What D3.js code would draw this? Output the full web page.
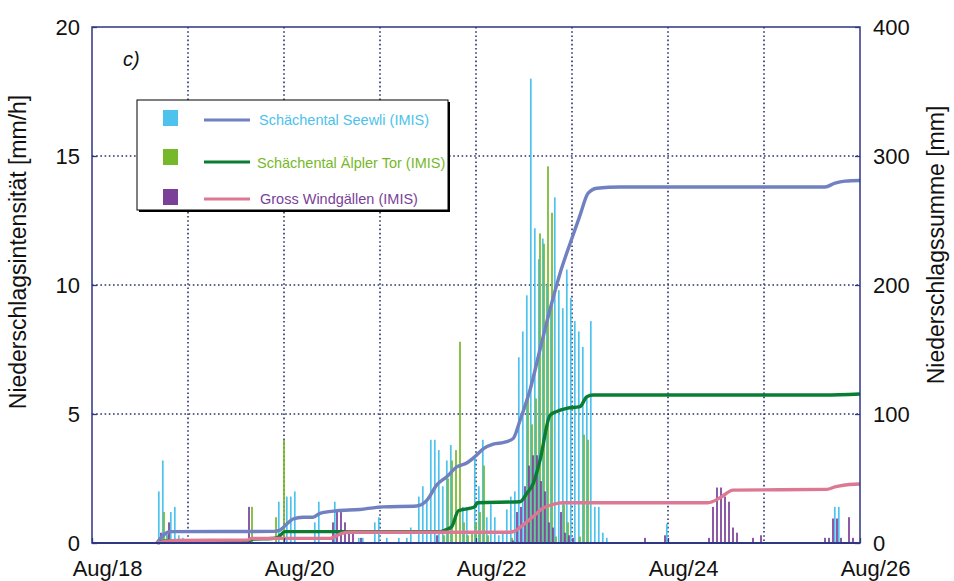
<!DOCTYPE html>
<html>
<head>
<meta charset="utf-8">
<script src="https://cdn.jsdelivr.net/npm/d3@7"></script>
<style>
  body { margin: 0; background: #fff; }
  svg { display: block; }
  text { font-family: "Liberation Sans", Arial, sans-serif; }
</style>
</head>
<body>
<svg id="chart" width="954" height="581"></svg>
<script>
// Hourly precipitation (mm/h) per station, as [hour since Aug 18 00:00, value]
const seewliRain = [
  [16, 2.0], [17, 3.2], [18, 0.4], [19, 1.2], [20, 1.4], [21, 0.3], [22, 0.2],
  [46, 1.6], [48, 1.8], [49, 1.8], [50, 2.0], [55, 0.8], [56, 1.6], [60, 1.6],
  [66, 0.2], [67, 0.2], [70, 0.8], [71, 1.0], [73, 0.2], [76, 0.2], [78, 0.2], [79, 0.6],
  [81, 1.8], [82, 2.2], [83, 1.6], [84, 4.0], [85, 4.0], [86, 3.6], [87, 2.2], [88, 3.2],
  [89, 3.8], [92, 1.4], [93, 1.4], [95, 3.3], [96, 2.2], [97, 4.0], [98, 1.0], [99, 1.5],
  [100, 1.0], [101, 0.3], [102, 0.4], [103, 1.3], [104, 1.8], [105, 2.0], [106, 7.2],
  [107, 8.2], [108, 9.6], [109, 18.0], [110, 12.2], [111, 11.0], [112, 11.8], [113, 10.0],
  [114, 9.0], [115, 13.4], [116, 9.8], [117, 9.1], [118, 10.6], [119, 9.5], [120, 8.6],
  [121, 8.2], [122, 7.6], [123, 5.7], [124, 8.6], [125, 1.4], [126, 1.4], [127, 0.4],
  [128, 0.2], [143, 0.75], [185, 1.4], [186, 1.4]
];
const alplerRain = [
  [17, 1.2], [18, 0.3], [39, 1.4], [45, 1.0], [47, 4.0],
  [87, 0.3], [88, 2.5], [89, 3.2], [90, 3.6], [91, 7.8], [92, 0.8], [93, 0.3], [94, 0.4],
  [95, 0.8], [96, 1.2], [97, 3.0], [98, 0.3], [104, 0.2],
  [108, 5.8], [109, 4.6], [110, 5.6], [111, 12.0], [112, 11.6], [113, 14.6], [114, 12.8],
  [115, 0.25], [117, 1.5], [118, 0.8], [121, 0.25], [122, 4.2], [123, 4.0]
];
const windgaellenRain = [
  [17, 0.4], [19, 0.8], [39, 1.4],
  [60, 0.8], [61, 1.2], [62, 1.2], [63, 0.8], [64, 0.4], [65, 0.4], [67, 0.2], [86, 0.3],
  [105, 0.1], [106, 1.2], [107, 1.4], [108, 2.2], [109, 3.0], [110, 3.4], [111, 3.4],
  [112, 2.4], [113, 2.0], [114, 0.8], [115, 0.6], [117, 1.2], [118, 0.4], [119, 0.3], [120, 0.2],
  [138, 0.2], [143, 0.3], [154, 0.2], [155, 1.4], [156, 2.15], [157, 2.15], [158, 1.8],
  [159, 1.6], [160, 0.6], [161, 0.4], [165, 0.2], [167, 0.3],
  [183, 0.2], [184, 0.2], [185, 0.95], [186, 0.95], [187, 0.2], [189, 1.0], [190, 0.2]
];

// Accumulated precipitation (mm), as [hour since Aug 18 00:00, sum]
const seewliSum = [
  [16.2, 0], [19.5, 8.8], [45.5, 9], [47, 10], [48.7, 14.7], [50.25, 18.6], [52.75, 20],
  [55.25, 20], [57, 23], [61.2, 25], [67, 26], [71.2, 27.6], [72.75, 28], [81.2, 28.7],
  [83.7, 33], [86.2, 45], [88.7, 51.4], [91.2, 59], [93.7, 62], [95.75, 67], [97.8, 73],
  [100.3, 76.7], [103, 78], [105.3, 81], [107, 95], [109.5, 118.6], [112, 150],
  [114.5, 181], [117, 209], [119.5, 232], [122, 254], [124, 271], [126.2, 275], [132, 276],
  [183.25, 276], [185.75, 279], [188.25, 280.5], [192, 281]
];
const alplerSum = [
  [16.5, 0], [18.5, 1.5], [39, 1.5], [40.25, 3], [45, 3.5], [46.5, 4.5], [48.25, 8.8],
  [87, 8.8], [88.25, 10], [89.9, 12.6], [91.6, 25], [94.6, 27], [95.6, 28], [96.4, 31.2],
  [107, 32], [108.7, 38.5], [110.3, 46], [112, 64], [114.5, 99], [116.2, 102],
  [118.7, 104.4], [122, 105.7], [123.7, 113.4], [125.3, 114.7], [183.25, 114.7], [192, 115.5]
];
const windgaellenSum = [
  [16.25, 0], [20.75, 2], [38.75, 2.2], [40, 3.6], [59.5, 3.6], [62.4, 7.5], [64.5, 8.3],
  [104.5, 8.3], [105.5, 9], [107.8, 14], [110.25, 20.4], [112.75, 27], [115.25, 30],
  [117.75, 31.2], [154, 31.2], [157, 35], [160.25, 41], [183.7, 41.6], [185.75, 43.5],
  [187.5, 44.6], [192, 45.7]
];

const stationNames = ["Schächental Seewli (IMIS)", "Schächental Älpler Tor (IMIS)", "Gross Windgällen (IMIS)"];
const dateTickDays = [0, 2, 4, 6, 8];
const dateTickLabels = ["Aug/18", "Aug/20", "Aug/22", "Aug/24", "Aug/26"];
const intensityTicks = [0, 5, 10, 15, 20];
const sumTicks = [0, 100, 200, 300, 400];

const barColors = ["#4cc2ec", "#76b82a", "#7b3f98"];
const lineColors = ["#7080c0", "#0a7d32", "#dc7893"];
const frameColor = "#2f3684";

const svg = d3.select("#chart");
const plotL = 92, plotR = 860, plotT = 27, plotB = 543;

const t0 = new Date(Date.UTC(2005, 7, 18));
const at = h => new Date(t0.getTime() + h * 3600e3);

const x = d3.scaleUtc().domain([at(0), at(192)]).range([plotL, plotR]);
const yL = d3.scaleLinear().domain([0, 20]).range([plotB, plotT]);
const yR = d3.scaleLinear().domain([0, 400]).range([plotB, plotT]);

// dotted grid
const grid = svg.append("g").attr("stroke", "#2c3270").attr("stroke-width", 1.6)
  .attr("stroke-dasharray", "1.6,2.6");
d3.range(1, 8).forEach(d => {
  const gx = x(at(d * 24));
  grid.append("line").attr("x1", gx).attr("x2", gx).attr("y1", plotT).attr("y2", plotB);
});
[5, 10, 15].forEach(v => {
  grid.append("line").attr("x1", plotL).attr("x2", plotR).attr("y1", yL(v)).attr("y2", yL(v));
});

// hourly bars
const barW = 1.7;
const barShift = [2.8, 4.0, 1.0];
[seewliRain, alplerRain, windgaellenRain].forEach((series, i) => {
  svg.append("g").selectAll("rect").data(series).join("rect")
    .attr("x", d => x(at(d[0])) + barShift[i] - barW / 2)
    .attr("width", barW)
    .attr("y", d => yL(d[1]))
    .attr("height", d => yL(0) - yL(d[1]))
    .attr("fill", barColors[i]);
});

// accumulated sums
const line = d3.line().x(d => x(at(d[0]))).y(d => yR(d[1])).curve(d3.curveMonotoneX);
[seewliSum, alplerSum, windgaellenSum].forEach((series, i) => {
  svg.append("path").datum(series).attr("d", line)
    .attr("fill", "none").attr("stroke", lineColors[i]).attr("stroke-width", 3.4)
    .attr("stroke-linejoin", "round");
});

// frame
svg.append("rect").attr("x", plotL).attr("y", plotT).attr("width", plotR - plotL).attr("height", plotB - plotT)
  .attr("fill", "none").attr("stroke", frameColor).attr("stroke-width", 1.5);
svg.append("line").attr("x1", plotL).attr("x2", plotR).attr("y1", plotB).attr("y2", plotB)
  .attr("stroke", frameColor).attr("stroke-width", 2.2);

// axes
const fontSize = 22;
const axL = svg.append("g").attr("transform", `translate(${plotL},0)`)
  .call(d3.axisLeft(yL).tickValues(intensityTicks).tickSize(-5).tickPadding(12));
const axR = svg.append("g").attr("transform", `translate(${plotR},0)`)
  .call(d3.axisRight(yR).tickValues(sumTicks).tickSize(-5).tickPadding(13));
const axB = svg.append("g").attr("transform", `translate(0,${plotB})`)
  .call(d3.axisBottom(x).tickValues(dateTickDays.map(d => at(d * 24)))
    .tickFormat((d, i) => dateTickLabels[i]).tickSize(-5).tickPadding(17));
[axL, axR, axB].forEach(g => {
  g.select(".domain").remove();
  g.selectAll(".tick line").attr("stroke", frameColor).attr("stroke-width", 1.3);
  g.selectAll(".tick text").attr("font-size", fontSize).attr("fill", "#111")
    .attr("font-family", '"Liberation Sans", Arial, sans-serif');
});
axB.selectAll(".tick text").attr("dx", 15);

// axis titles
svg.append("text").attr("transform", `translate(26,252) rotate(-90)`)
  .attr("text-anchor", "middle").attr("font-size", 23).attr("fill", "#111")
  .text("Niederschlagsintensität [mm/h]");
svg.append("text").attr("transform", `translate(944,245) rotate(-90)`)
  .attr("text-anchor", "middle").attr("font-size", 23).attr("fill", "#111")
  .text("Niederschlagssumme [mm]");

// panel label
svg.append("text").attr("x", 123).attr("y", 66).attr("font-size", 20)
  .attr("font-style", "italic").attr("fill", "#111").text("c)");

// legend
const lg = svg.append("g");
lg.append("rect").attr("x", 139).attr("y", 102).attr("width", 311).attr("height", 110).attr("fill", "#000");
lg.append("rect").attr("x", 137).attr("y", 100).attr("width", 311).attr("height", 110)
  .attr("fill", "#fff").attr("stroke", "#000").attr("stroke-width", 1);
const rowY = [118, 157, 197];
const textDx = [259, 257, 260];
stationNames.forEach((name, i) => {
  const ly = rowY[i] + 2 + (i === 1 ? 3 : 0);
  lg.append("rect").attr("x", 163).attr("y", rowY[i] - 8).attr("width", 15).attr("height", 16)
    .attr("fill", barColors[i]);
  lg.append("line").attr("x1", 204).attr("x2", 250).attr("y1", ly).attr("y2", ly)
    .attr("stroke", lineColors[i]).attr("stroke-width", 3.2);
  lg.append("text").attr("x", textDx[i]).attr("y", rowY[i] + 7 + (i === 1 ? 4 : 0))
    .attr("font-size", 14.5).attr("fill", barColors[i]).text(name);
});
</script>
</body>
</html>
